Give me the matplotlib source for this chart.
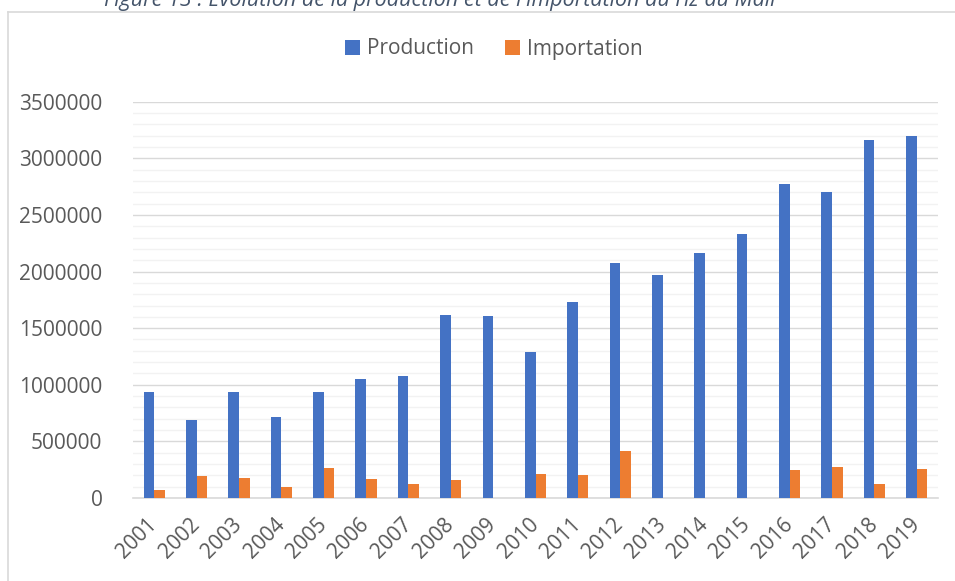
import numpy as np
import matplotlib
matplotlib.use("Agg")
import matplotlib.pyplot as plt
from matplotlib.lines import Line2D
from matplotlib.patches import Patch
from matplotlib.ticker import MultipleLocator

# --- Data -------------------------------------------------------------------
YEARS = [str(y) for y in range(2001, 2020)]
PRODUCTION = [935000, 688000, 935000, 711000, 940000, 1050000, 1080000,
              1617000, 1610000, 1290000, 1730000, 2074000, 1973000,
              2162000, 2330000, 2776000, 2703000, 3165000, 3197000]
IMPORTATION = [73000, 197000, 179000, 100000, 265000, 170000, 125000,
               160000, 0, 215000, 200000, 417000, 0, 0, 0,
               247000, 276000, 124000, 259000]
Y_TICKS = [0, 500000, 1000000, 1500000, 2000000, 2500000, 3000000, 3500000]

TITLE = "Figure 13 : Évolution de la production et de l'importation du riz au Mali"

BLUE = "#4472C4"
ORANGE = "#ED7D31"
TEXT = "#595959"
FONT = "Open Sans"


def main():
    fig = plt.figure(figsize=(9.55, 5.81), dpi=100)
    ax = fig.add_axes([133 / 955, 1 - 498 / 581, (938 - 133) / 955, (498 - 101.7) / 581])

    x = np.arange(len(YEARS))
    w = 0.25
    ax.bar(x - w / 2, PRODUCTION, width=w, color=BLUE, zorder=3)
    ax.bar(x + w / 2, IMPORTATION, width=w, color=ORANGE, zorder=3)

    ax.set_xlim(-0.5, len(YEARS) - 0.5)
    ax.set_yticks(Y_TICKS)
    ax.set_yticklabels([str(v) for v in Y_TICKS], fontsize=15, color=TEXT,
                       family=FONT)
    ax.yaxis.set_minor_locator(MultipleLocator(100000))
    ax.set_ylim(0, 3500000)
    ax.grid(axis="y", which="major", color="#D9D9D9", linewidth=1.0, zorder=0)
    ax.grid(axis="y", which="minor", color="#F2F2F2", linewidth=1.0, zorder=0)

    for s in ["top", "right", "left"]:
        ax.spines[s].set_visible(False)
    ax.spines["bottom"].set_color("#D9D9D9")
    ax.spines["bottom"].set_linewidth(1.2)

    ax.set_xticks(x)
    ax.set_xticklabels(YEARS, rotation=45, ha="right", va="center",
                       rotation_mode="anchor", fontsize=15, color=TEXT,
                       family=FONT)
    ax.tick_params(axis="x", length=0, pad=17)
    ax.tick_params(axis="y", which="both", length=0, pad=22)

    # Legend on top
    handles = [Patch(facecolor=BLUE, label="Production"),
               Patch(facecolor=ORANGE, label="Importation")]
    fig.legend(handles=handles, loc="center", bbox_to_anchor=(494 / 955, 1 - 49 / 581),
               ncol=2, frameon=False, handlelength=0.7, handleheight=0.7,
               handletextpad=0.35, columnspacing=1.5,
               prop={"family": FONT, "size": 15}, labelcolor=TEXT)

    # Chart area border
    fig.add_artist(Line2D([7.5 / 955, 7.5 / 955], [0, 1 - 12 / 581],
                          transform=fig.transFigure, color="#D9D9D9", linewidth=1.2))
    fig.add_artist(Line2D([7.5 / 955, 1], [1 - 12 / 581, 1 - 12 / 581],
                          transform=fig.transFigure, color="#D9D9D9", linewidth=1.2))

    # Caption at the very top (cut by the page edge, as in the source)
    fig.text(440 / 955, 1 - 6 / 581, TITLE, ha="center", va="baseline",
             fontsize=15.5, fontstyle="italic", color="#44546A", family=FONT)

    fig.savefig("out.png", dpi=100)


if __name__ == "__main__":
    main()
